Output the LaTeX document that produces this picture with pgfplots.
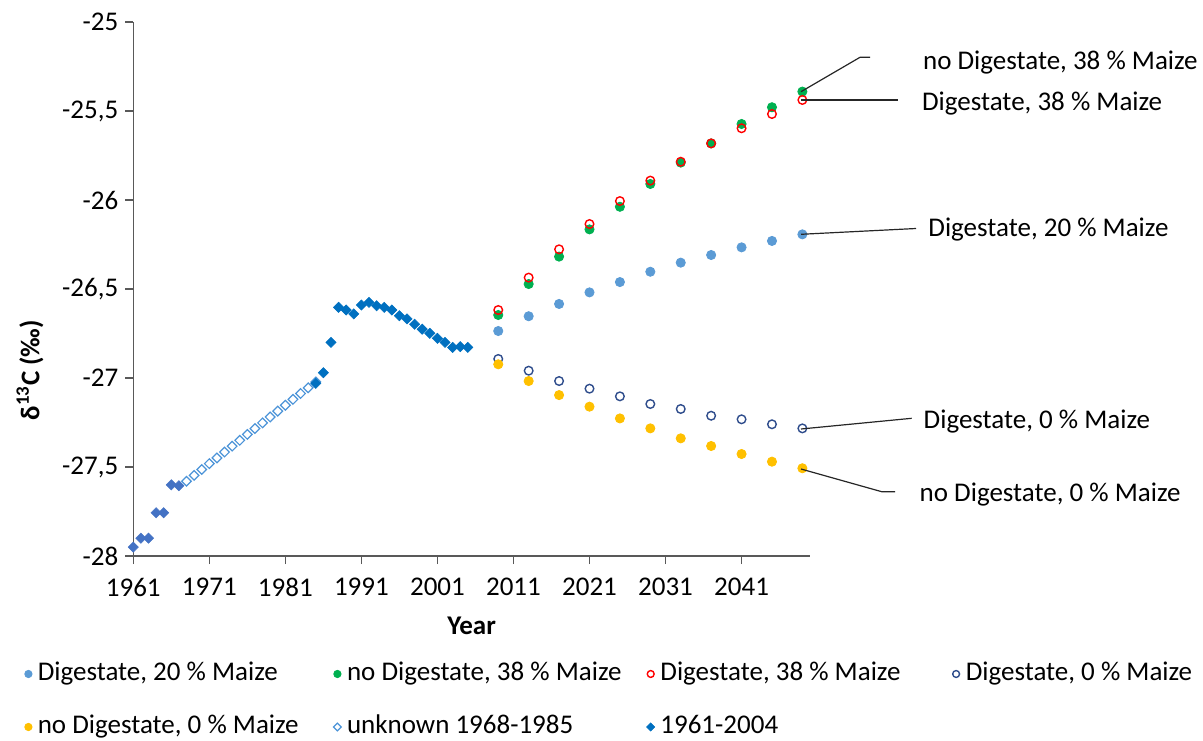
\documentclass[border=0pt]{standalone}
\usepackage{pgfplots}
\pgfplotsset{compat=1.18}
\usepackage{fontspec}
\setmainfont{Carlito}
\definecolor{c20}{HTML}{5B9BD5}
\definecolor{cg}{HTML}{00B050}
\definecolor{cr}{HTML}{FF0000}
\definecolor{cn}{HTML}{2F4D8C}
\definecolor{cy}{HTML}{FFC000}
\definecolor{cu}{HTML}{4C94D8}
\definecolor{cd}{HTML}{0070C0}
\definecolor{ce}{HTML}{4472C4}
\definecolor{axc}{HTML}{595959}
\newcommand{\fs}{\fontsize{13.5}{16}\selectfont}
\pgfplotsset{
 lgc/.style={legend image code/.code={\path (-4pt,0pt) (4pt,0pt); \draw[##1, every mark/.append style={scale=0.8}] plot coordinates {(0pt,0pt)};}},
}
\begin{document}
\begin{tikzpicture}
\begin{axis}[
 width=338.35pt, height=267pt, scale only axis,
 xmin=1961, xmax=2050, ymin=-28, ymax=-25,
 axis x line=bottom, axis y line=left,
 axis line style={-, draw=axc, line width=0.65pt},
 tick align=outside, major tick length=4pt,
 tick style={draw=axc, line width=0.65pt},
 xtick={1961,1971,1981,1991,2001,2011,2021,2031,2041},
 xticklabels={1961,1971,1981,1991,2001,2011,2021,2031,2041},
 ytick={-28,-27.5,-27,-26.5,-26,-25.5,-25},
 yticklabels={{-28},{-27,5},{-27},{-26,5},{-26},{-25,5},{-25}},
 tick label style={font=\fs, text=black},
 x tick label style={yshift=-3.5pt},
 xlabel={\textbf{Year}}, ylabel={\textbf{δ\textsuperscript{13}C (‰)}},
 label style={font=\fs},
 xlabel style={at={(axis description cs:0.5,-0.131)}, anchor=center},
 ylabel style={at={(axis description cs:-0.1527,0.348)}, anchor=center},
 clip=false,
 legend columns=4,
 legend cell align=left,
 legend style={draw=none, fill=none, inner sep=0pt, outer sep=0pt,
   at={(-0.1674,-0.1966)}, anchor=north west, column sep=0pt, row sep=13.5pt,
   font=\fs,
   nodes={inner xsep=0.5pt, inner ysep=0pt, text height=10pt, text depth=3pt}},
]
% Digestate, 20 % Maize
\addplot[only marks, mark=*, mark size=2.3pt, line width=0.4pt, color=c20, lgc] coordinates {
(2009,-26.736) (2013,-26.653) (2017,-26.584) (2021,-26.519) (2025,-26.461) (2029,-26.403)
(2033,-26.352) (2037,-26.309) (2041,-26.266) (2045,-26.230) (2049,-26.193)};
\addlegendentry{\makebox[145pt][l]{Digestate, 20 \% Maize}}
% no Digestate, 38 % Maize
\addplot[only marks, mark=*, mark size=2.3pt, line width=0.4pt, color=cg, lgc] coordinates {
(2009,-26.646) (2013,-26.472) (2017,-26.318) (2021,-26.165) (2025,-26.038) (2029,-25.910)
(2033,-25.790) (2037,-25.682) (2041,-25.573) (2045,-25.479) (2049,-25.391)};
\addlegendentry{\makebox[147pt][l]{no Digestate, 38 \% Maize}}
% Digestate, 38 % Maize
\addplot[only marks, mark=o, mark size=2.15pt, line width=0.7pt, color=cr, lgc] coordinates {
(2009,-26.618) (2013,-26.436) (2017,-26.277) (2021,-26.135) (2025,-26.006) (2029,-25.891)
(2033,-25.785) (2037,-25.682) (2041,-25.597) (2045,-25.517) (2049,-25.438)};
\addlegendentry{\makebox[143pt][l]{Digestate, 38 \% Maize}}
% Digestate, 0 % Maize
\addplot[only marks, mark=o, mark size=2.15pt, line width=0.7pt, color=cn, lgc] coordinates {
(2009,-26.893) (2013,-26.959) (2017,-27.017) (2021,-27.060) (2025,-27.103) (2029,-27.146)
(2033,-27.174) (2037,-27.212) (2041,-27.232) (2045,-27.260) (2049,-27.283)};
\addlegendentry{\makebox[118pt][l]{Digestate, 0 \% Maize}}
% no Digestate, 0 % Maize
\addplot[only marks, mark=*, mark size=2.3pt, line width=0.4pt, color=cy, lgc] coordinates {
(2009,-26.923) (2013,-27.017) (2017,-27.096) (2021,-27.161) (2025,-27.227) (2029,-27.283)
(2033,-27.339) (2037,-27.382) (2041,-27.427) (2045,-27.470) (2049,-27.507)};
\addlegendentry{\makebox[145pt][l]{no Digestate, 0 \% Maize}}
% early points (1961-1967)
\addplot[forget plot, only marks, mark=square*, mark size=1.8pt, line width=0.3pt, color=ce, mark options={rotate=45}] coordinates {
(1961,-27.950) (1962,-27.900) (1963,-27.900) (1964,-27.757) (1965,-27.757) (1966,-27.600) (1967,-27.605)};
% unknown 1968-1985
\addplot[only marks, mark=square, mark size=1.7pt, line width=0.6pt, color=cu, mark options={rotate=45}, lgc] coordinates {
(1968,-27.580) (1969,-27.547) (1970,-27.514) (1971,-27.481) (1972,-27.449) (1973,-27.416)
(1974,-27.383) (1975,-27.350) (1976,-27.317) (1977,-27.284) (1978,-27.252) (1979,-27.219)
(1980,-27.186) (1981,-27.153) (1982,-27.120) (1983,-27.087) (1984,-27.055) (1985,-27.022)};
\addlegendentry{\makebox[147pt][l]{unknown 1968-1985}}
% 1961-2004
\addplot[only marks, mark=square*, mark size=1.8pt, line width=0.3pt, color=cd, mark options={rotate=45}, lgc] coordinates {
(1985,-27.030) (1986,-26.970) (1987,-26.800) (1988,-26.603) (1989,-26.618) (1990,-26.640)
(1991,-26.590) (1992,-26.575) (1993,-26.594) (1994,-26.603) (1995,-26.618) (1996,-26.650)
(1997,-26.668) (1998,-26.698) (1999,-26.726) (2000,-26.749) (2001,-26.777) (2002,-26.800)
(2003,-26.828) (2004,-26.824) (2005,-26.828)};
\addlegendentry{\makebox[143pt][l]{1961-2004}}
\end{axis}
\begin{scope}[x=0.5pt, y=-0.5pt, shift={(-66.65pt,278pt)}]
\draw[line width=0.6pt, black!85] (801,91.7) -- (860,57.3) -- (870,57.3);
\draw[line width=0.6pt, black!85] (801,100) -- (898,100);
\draw[line width=0.6pt, black!85] (801,234.3) -- (916,228.5);
\draw[line width=0.6pt, black!85] (801,429) -- (911.7,418.3);
\draw[line width=0.6pt, black!85] (801,469) -- (881.7,491.7) -- (895,491.7);
\node[anchor=base west, inner sep=0pt, font=\fs] at (922.7,69.2) {no Digestate, 38 \% Maize};
\node[anchor=base west, inner sep=0pt, font=\fs] at (921.7,110.2) {Digestate, 38 \% Maize};
\node[anchor=base west, inner sep=0pt, font=\fs] at (928,236.5) {Digestate, 20 \% Maize};
\node[anchor=base west, inner sep=0pt, font=\fs] at (923.3,428.5) {Digestate, 0 \% Maize};
\node[anchor=base west, inner sep=0pt, font=\fs] at (919.3,501.5) {no Digestate, 0 \% Maize};
\pgfresetboundingbox
\path[use as bounding box] (0,0) rectangle (1203,740);
\end{scope}
\end{tikzpicture}
\end{document}
